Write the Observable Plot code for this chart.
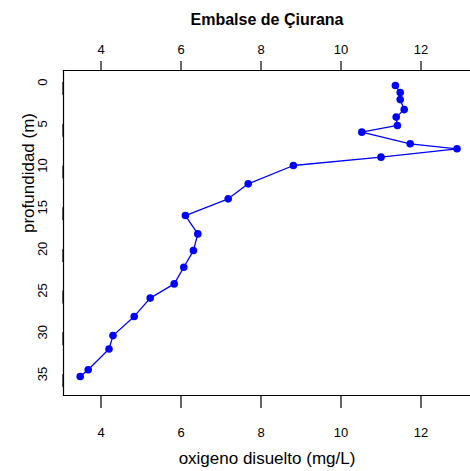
<!DOCTYPE html>
<html>
<head>
<meta charset="utf-8">
<script src="https://cdn.jsdelivr.net/npm/d3@7"></script>
<script src="https://cdn.jsdelivr.net/npm/@observablehq/plot@0.6"></script>
<style>
  html, body { margin: 0; padding: 0; background: #fff; overflow: hidden; }
</style>
</head>
<body>
<div id="chart"></div>
<script>
const title = "Embalse de Çiurana";
const xLabel = "oxigeno disuelto (mg/L)";
const yLabel = "profundidad (m)";
const oxygen = [11.36, 11.48, 11.48, 11.58, 11.38, 11.41, 10.52, 11.73, 12.9, 11.0, 8.81, 7.68, 7.18, 6.11, 6.42, 6.31, 6.07, 5.83, 5.23, 4.83, 4.30, 4.20, 3.68, 3.48];
const depth = [0.4, 1.25, 2.1, 3.3, 4.2, 5.2, 6.0, 7.4, 8.0, 9.0, 10.0, 12.2, 14.0, 16.0, 18.2, 20.2, 22.2, 24.2, 25.9, 28.1, 30.4, 32.0, 34.5, 35.3];
const xTicks = [4, 6, 8, 10, 12];
const yTicks = [0, 5, 10, 15, 20, 25, 30, 35];

const data = oxygen.map((o, i) => ({o, d: depth[i]}));
const blue = "#0000ff";

const chart = Plot.plot({
  width: 470,
  height: 471,
  marginLeft: 63,
  marginRight: 0,
  marginTop: 70,
  marginBottom: 76,
  style: {fontFamily: "'Liberation Sans', Arial, sans-serif", background: "#fff", color: "#000"},
  x: {domain: [3.0625, 13.2375]},
  y: {domain: [-1.39, 37.58], reverse: true},
  marks: [
    Plot.frame({anchor: "top", stroke: "#000", strokeWidth: 1.2}),
    Plot.frame({anchor: "left", stroke: "#000", strokeWidth: 1.2}),
    Plot.frame({anchor: "bottom", stroke: "#000", strokeWidth: 1.2}),
    Plot.axisX({anchor: "bottom", ticks: xTicks, tickSize: 13, tickPadding: 19, fontSize: 13, label: null, stroke: "#000", strokeWidth: 1.2}),
    Plot.axisX({anchor: "top", ticks: xTicks, tickSize: 10, tickPadding: 7, fontSize: 13, label: null, stroke: "#000", strokeWidth: 1.2}),
    Plot.axisY({anchor: "left", ticks: yTicks, tickSize: 13, tickPadding: 4, fontSize: 13, label: null, rotate: -90, textAnchor: "middle", lineAnchor: "bottom", stroke: "#000", strokeWidth: 1.2}),
    Plot.line(data, {x: "o", y: "d", stroke: blue, strokeWidth: 1.3}),
    Plot.dot(data, {x: "o", y: "d", r: 3.8, fill: blue, stroke: "none"}),
    Plot.text([title], {frameAnchor: "top", dy: -46, lineAnchor: "bottom", fontSize: 16, fontWeight: "bold", fill: "#000", style: "letter-spacing:1.1px"}),
    Plot.text([xLabel], {frameAnchor: "bottom", dy: 68, lineAnchor: "bottom", fontSize: 17, fill: "#000"}),
    Plot.text([yLabel], {frameAnchor: "left", dx: -30, rotate: -90, lineAnchor: "bottom", fontSize: 17, fill: "#000"})
  ]
});
document.getElementById("chart").appendChild(chart);
</script>
</body>
</html>
